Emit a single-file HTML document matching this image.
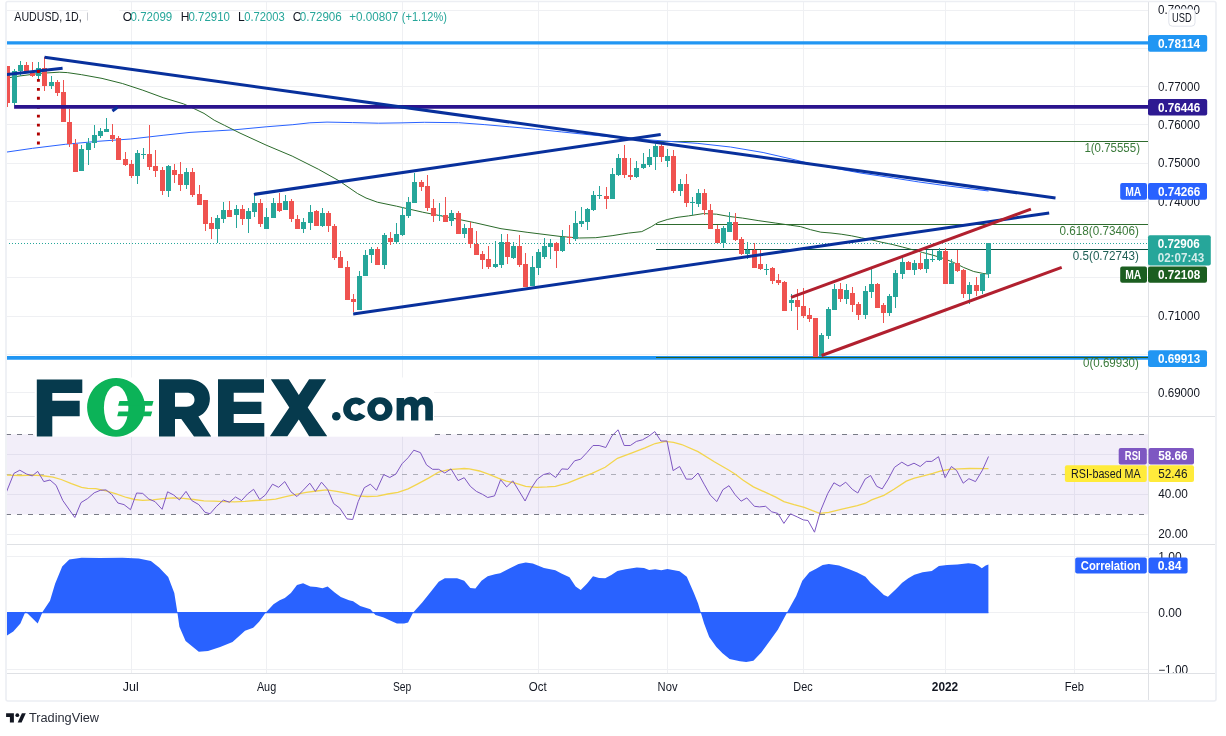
<!DOCTYPE html><html><head><meta charset="utf-8"><style>html,body{margin:0;padding:0;background:#fff;overflow:hidden}svg{will-change:transform}body{width:1226px;height:736px}</style></head><body><svg width="1226" height="736" viewBox="0 0 1226 736" style="display:block;font-family:'Liberation Sans', sans-serif"><defs><clipPath id="cm"><rect x="7" y="2" width="1141" height="414"/></clipPath><clipPath id="cr"><rect x="7" y="417" width="1141" height="127"/></clipPath><clipPath id="cc"><rect x="7" y="545" width="1141" height="128"/></clipPath><clipPath id="pa"><rect x="1149" y="2" width="66" height="414"/></clipPath><clipPath id="pr"><rect x="1149" y="417" width="66" height="127"/></clipPath><clipPath id="pc"><rect x="1149" y="545" width="66" height="128"/></clipPath></defs><rect width="1226" height="736" fill="#fff"/><g stroke="#eff0f3" stroke-width="1" shape-rendering="crispEdges"><line x1="7" x2="1148" y1="10.1" y2="10.1"/><line x1="7" x2="1148" y1="48.3" y2="48.3"/><line x1="7" x2="1148" y1="86.6" y2="86.6"/><line x1="7" x2="1148" y1="124.9" y2="124.9"/><line x1="7" x2="1148" y1="163.1" y2="163.1"/><line x1="7" x2="1148" y1="201.4" y2="201.4"/><line x1="7" x2="1148" y1="239.6" y2="239.6"/><line x1="7" x2="1148" y1="277.9" y2="277.9"/><line x1="7" x2="1148" y1="316.1" y2="316.1"/><line x1="7" x2="1148" y1="354.3" y2="354.3"/><line x1="7" x2="1148" y1="392.6" y2="392.6"/><line x1="7" x2="1148" y1="454.4" y2="454.4"/><line x1="7" x2="1148" y1="494.4" y2="494.4"/><line x1="7" x2="1148" y1="534.4" y2="534.4"/><line x1="7" x2="1148" y1="556.4" y2="556.4"/><line x1="7" x2="1148" y1="612.8" y2="612.8"/><line x1="7" x2="1148" y1="669.5" y2="669.5"/><line x1="131.5" x2="131.5" y1="2" y2="673"/><line x1="266.5" x2="266.5" y1="2" y2="673"/><line x1="402.5" x2="402.5" y1="2" y2="673"/><line x1="538.5" x2="538.5" y1="2" y2="673"/><line x1="667.5" x2="667.5" y1="2" y2="673"/><line x1="803.5" x2="803.5" y1="2" y2="673"/><line x1="945.5" x2="945.5" y1="2" y2="673"/><line x1="1074.5" x2="1074.5" y1="2" y2="673"/></g><rect x="7" y="434.3" width="1141" height="80.1" fill="#7e57c2" fill-opacity="0.1"/><g stroke="#787b86" stroke-width="1" stroke-dasharray="5 6" shape-rendering="crispEdges"><line x1="6" x2="1148" y1="434.5" y2="434.5"/><line x1="6" x2="1148" y1="474.5" y2="474.5" stroke-opacity="0.55"/><line x1="6" x2="1148" y1="514.5" y2="514.5"/></g><g clip-path="url(#cm)"><line x1="7" x2="1148" y1="42.8" y2="42.8" stroke="#2196f3" stroke-width="3.3"/><line x1="7" x2="1148" y1="357.9" y2="357.9" stroke="#2196f3" stroke-width="3.6"/><g stroke-width="1" shape-rendering="crispEdges"><line x1="656" x2="1148" y1="141.5" y2="141.5" stroke="#2e6b2e"/><line x1="656" x2="1148" y1="224.5" y2="224.5" stroke="#2e6b2e"/><line x1="656" x2="1148" y1="249.5" y2="249.5" stroke="#0d4f42"/><line x1="656" x2="1148" y1="357.5" y2="357.5" stroke="#2b5e22"/></g><polyline points="6.5,152.1 32.6,148.3 65.3,144.3 97.9,141.3 130.5,139.0 163.1,135.3 190.0,132.4 234.5,129.8 266.2,126.8 292.8,124.7 309.9,122.8 327.0,122.1 352.7,122.6 378.4,123.2 400.0,122.9 424.3,122.3 458.5,122.7 484.2,124.6 509.9,126.8 535.6,129.2 561.3,131.9 587.0,134.5 610.0,136.8 632.6,138.6 665.3,141.1 697.9,143.4 730.5,147.0 763.1,152.5 795.8,160.0 808.8,163.3 835.0,168.3 861.0,173.1 879.2,175.8 893.6,178.0 918.3,181.9 944.4,185.5 966.0,188.2 988.5,191.0" fill="none" stroke="#2962ff" stroke-width="1"/><polyline points="7.1,78.0 20.4,75.9 40.8,73.3 59.2,72.2 67.3,72.6 81.6,74.7 102.0,78.4 122.4,83.5 142.8,90.2 163.2,97.7 183.6,103.9 193.8,108.5 204.0,113.4 214.2,120.2 224.4,125.3 240.0,133.1 266.1,145.1 292.2,156.1 318.3,169.2 339.2,180.9 357.5,193.5 366.0,198.0 377.4,202.2 396.6,206.2 422.7,212.2 448.8,217.4 474.8,222.7 501.0,228.7 527.1,232.3 560.0,236.4 579.4,238.0 595.8,237.7 612.1,235.7 628.4,233.1 641.8,231.6 651.2,226.8 658.0,222.5 667.3,219.5 677.0,217.4 688.5,215.9 703.3,213.6 716.5,214.2 729.5,216.5 742.6,218.1 758.9,220.7 775.2,223.0 790.2,225.2 800.4,226.6 810.6,229.7 820.8,232.2 831.0,233.0 841.2,234.2 851.4,235.8 861.5,237.9 871.7,239.9 881.9,242.3 892.1,244.4 902.3,247.0 912.5,249.7 922.7,252.5 932.9,255.2 943.1,258.3 953.3,262.3 963.5,267.4 973.7,271.5 983.9,273.6 988.5,274.0" fill="none" stroke="#2b6b2b" stroke-width="1"/><line x1="6" x2="1148" y1="243.5" y2="243.5" stroke="#26a69a" stroke-width="1" stroke-dasharray="1 2" shape-rendering="crispEdges"/><g shape-rendering="crispEdges"><rect x="7" y="66" width="1" height="41" fill="#ef5350"/><rect x="5" y="66" width="5" height="37" fill="#ef5350"/><rect x="14" y="69" width="1" height="36" fill="#26a69a"/><rect x="12" y="71" width="5" height="32" fill="#26a69a"/><rect x="20" y="61" width="1" height="15" fill="#26a69a"/><rect x="18" y="65" width="5" height="6" fill="#26a69a"/><rect x="26" y="62" width="1" height="11" fill="#ef5350"/><rect x="24" y="65" width="5" height="8" fill="#ef5350"/><rect x="32" y="62" width="1" height="15" fill="#ef5350"/><rect x="30" y="73" width="5" height="3" fill="#ef5350"/><rect x="38" y="62" width="1" height="17" fill="#26a69a"/><rect x="36" y="68" width="5" height="8" fill="#26a69a"/><rect x="44" y="57" width="1" height="34" fill="#ef5350"/><rect x="42" y="68" width="5" height="18" fill="#ef5350"/><rect x="51" y="76" width="1" height="13" fill="#26a69a"/><rect x="49" y="82" width="5" height="4" fill="#26a69a"/><rect x="57" y="80" width="1" height="16" fill="#ef5350"/><rect x="55" y="82" width="5" height="11" fill="#ef5350"/><rect x="63" y="80" width="1" height="42" fill="#ef5350"/><rect x="61" y="92" width="5" height="30" fill="#ef5350"/><rect x="69" y="109" width="1" height="38" fill="#ef5350"/><rect x="67" y="122" width="5" height="22" fill="#ef5350"/><rect x="75" y="139" width="1" height="33" fill="#ef5350"/><rect x="73" y="144" width="5" height="28" fill="#ef5350"/><rect x="81" y="145" width="1" height="26" fill="#26a69a"/><rect x="79" y="149" width="5" height="22" fill="#26a69a"/><rect x="88" y="138" width="1" height="27" fill="#26a69a"/><rect x="86" y="143" width="5" height="7" fill="#26a69a"/><rect x="94" y="125" width="1" height="23" fill="#26a69a"/><rect x="92" y="135" width="5" height="8" fill="#26a69a"/><rect x="100" y="128" width="1" height="10" fill="#26a69a"/><rect x="98" y="131" width="5" height="5" fill="#26a69a"/><rect x="106" y="118" width="1" height="14" fill="#26a69a"/><rect x="104" y="129" width="5" height="3" fill="#26a69a"/><rect x="112" y="124" width="1" height="18" fill="#ef5350"/><rect x="110" y="135" width="5" height="4" fill="#ef5350"/><rect x="118" y="136" width="1" height="24" fill="#ef5350"/><rect x="116" y="138" width="5" height="22" fill="#ef5350"/><rect x="125" y="152" width="1" height="14" fill="#ef5350"/><rect x="123" y="159" width="5" height="6" fill="#ef5350"/><rect x="131" y="160" width="1" height="18" fill="#ef5350"/><rect x="129" y="164" width="5" height="12" fill="#ef5350"/><rect x="137" y="150" width="1" height="34" fill="#26a69a"/><rect x="135" y="153" width="5" height="23" fill="#26a69a"/><rect x="143" y="148" width="1" height="11" fill="#26a69a"/><rect x="141" y="154" width="5" height="1" fill="#26a69a"/><rect x="149" y="125" width="1" height="45" fill="#ef5350"/><rect x="147" y="154" width="5" height="13" fill="#ef5350"/><rect x="155" y="150" width="1" height="27" fill="#ef5350"/><rect x="153" y="166" width="5" height="5" fill="#ef5350"/><rect x="162" y="167" width="1" height="28" fill="#ef5350"/><rect x="160" y="170" width="5" height="21" fill="#ef5350"/><rect x="168" y="165" width="1" height="32" fill="#26a69a"/><rect x="166" y="166" width="5" height="25" fill="#26a69a"/><rect x="174" y="164" width="1" height="19" fill="#ef5350"/><rect x="172" y="170" width="5" height="5" fill="#ef5350"/><rect x="180" y="162" width="1" height="29" fill="#ef5350"/><rect x="178" y="174" width="5" height="11" fill="#ef5350"/><rect x="186" y="168" width="1" height="21" fill="#26a69a"/><rect x="184" y="172" width="5" height="13" fill="#26a69a"/><rect x="192" y="168" width="1" height="29" fill="#ef5350"/><rect x="190" y="172" width="5" height="23" fill="#ef5350"/><rect x="199" y="185" width="1" height="20" fill="#ef5350"/><rect x="197" y="194" width="5" height="11" fill="#ef5350"/><rect x="205" y="200" width="1" height="31" fill="#ef5350"/><rect x="203" y="200" width="5" height="24" fill="#ef5350"/><rect x="211" y="217" width="1" height="22" fill="#ef5350"/><rect x="209" y="223" width="5" height="6" fill="#ef5350"/><rect x="217" y="215" width="1" height="28" fill="#26a69a"/><rect x="215" y="218" width="5" height="11" fill="#26a69a"/><rect x="223" y="202" width="1" height="21" fill="#26a69a"/><rect x="221" y="210" width="5" height="9" fill="#26a69a"/><rect x="229" y="201" width="1" height="16" fill="#ef5350"/><rect x="227" y="210" width="5" height="7" fill="#ef5350"/><rect x="236" y="205" width="1" height="23" fill="#26a69a"/><rect x="234" y="209" width="5" height="6" fill="#26a69a"/><rect x="242" y="205" width="1" height="20" fill="#ef5350"/><rect x="240" y="209" width="5" height="10" fill="#ef5350"/><rect x="248" y="208" width="1" height="25" fill="#26a69a"/><rect x="246" y="211" width="5" height="8" fill="#26a69a"/><rect x="254" y="196" width="1" height="21" fill="#26a69a"/><rect x="252" y="203" width="5" height="9" fill="#26a69a"/><rect x="260" y="199" width="1" height="28" fill="#ef5350"/><rect x="258" y="203" width="5" height="21" fill="#ef5350"/><rect x="266" y="208" width="1" height="21" fill="#26a69a"/><rect x="264" y="217" width="5" height="12" fill="#26a69a"/><rect x="273" y="198" width="1" height="20" fill="#26a69a"/><rect x="271" y="203" width="5" height="15" fill="#26a69a"/><rect x="279" y="193" width="1" height="19" fill="#ef5350"/><rect x="277" y="203" width="5" height="8" fill="#ef5350"/><rect x="285" y="195" width="1" height="15" fill="#26a69a"/><rect x="283" y="201" width="5" height="9" fill="#26a69a"/><rect x="291" y="199" width="1" height="23" fill="#ef5350"/><rect x="289" y="201" width="5" height="18" fill="#ef5350"/><rect x="297" y="215" width="1" height="14" fill="#ef5350"/><rect x="295" y="219" width="5" height="10" fill="#ef5350"/><rect x="303" y="218" width="1" height="15" fill="#26a69a"/><rect x="301" y="222" width="5" height="7" fill="#26a69a"/><rect x="310" y="205" width="1" height="25" fill="#26a69a"/><rect x="308" y="212" width="5" height="11" fill="#26a69a"/><rect x="316" y="210" width="1" height="16" fill="#ef5350"/><rect x="314" y="211" width="5" height="15" fill="#ef5350"/><rect x="322" y="208" width="1" height="19" fill="#26a69a"/><rect x="320" y="213" width="5" height="13" fill="#26a69a"/><rect x="328" y="211" width="1" height="21" fill="#ef5350"/><rect x="326" y="213" width="5" height="13" fill="#ef5350"/><rect x="334" y="224" width="1" height="36" fill="#ef5350"/><rect x="332" y="226" width="5" height="32" fill="#ef5350"/><rect x="340" y="251" width="1" height="17" fill="#ef5350"/><rect x="338" y="257" width="5" height="11" fill="#ef5350"/><rect x="347" y="261" width="1" height="39" fill="#ef5350"/><rect x="345" y="267" width="5" height="33" fill="#ef5350"/><rect x="353" y="294" width="1" height="18" fill="#ef5350"/><rect x="351" y="299" width="5" height="3" fill="#ef5350"/><rect x="359" y="271" width="1" height="39" fill="#26a69a"/><rect x="357" y="276" width="5" height="34" fill="#26a69a"/><rect x="365" y="250" width="1" height="26" fill="#26a69a"/><rect x="363" y="255" width="5" height="21" fill="#26a69a"/><rect x="371" y="247" width="1" height="16" fill="#26a69a"/><rect x="369" y="249" width="5" height="6" fill="#26a69a"/><rect x="377" y="247" width="1" height="18" fill="#ef5350"/><rect x="375" y="249" width="5" height="16" fill="#ef5350"/><rect x="384" y="233" width="1" height="36" fill="#26a69a"/><rect x="382" y="235" width="5" height="30" fill="#26a69a"/><rect x="390" y="232" width="1" height="13" fill="#ef5350"/><rect x="388" y="238" width="5" height="4" fill="#ef5350"/><rect x="396" y="223" width="1" height="21" fill="#26a69a"/><rect x="394" y="234" width="5" height="8" fill="#26a69a"/><rect x="402" y="207" width="1" height="29" fill="#26a69a"/><rect x="400" y="215" width="5" height="20" fill="#26a69a"/><rect x="408" y="197" width="1" height="21" fill="#26a69a"/><rect x="406" y="202" width="5" height="14" fill="#26a69a"/><rect x="414" y="173" width="1" height="30" fill="#26a69a"/><rect x="412" y="182" width="5" height="21" fill="#26a69a"/><rect x="421" y="180" width="1" height="11" fill="#ef5350"/><rect x="419" y="182" width="5" height="5" fill="#ef5350"/><rect x="427" y="175" width="1" height="36" fill="#ef5350"/><rect x="425" y="186" width="5" height="22" fill="#ef5350"/><rect x="433" y="199" width="1" height="23" fill="#ef5350"/><rect x="431" y="208" width="5" height="8" fill="#ef5350"/><rect x="439" y="203" width="1" height="18" fill="#26a69a"/><rect x="437" y="215" width="5" height="1" fill="#26a69a"/><rect x="445" y="197" width="1" height="25" fill="#ef5350"/><rect x="443" y="215" width="5" height="7" fill="#ef5350"/><rect x="451" y="210" width="1" height="16" fill="#26a69a"/><rect x="449" y="213" width="5" height="8" fill="#26a69a"/><rect x="458" y="211" width="1" height="23" fill="#ef5350"/><rect x="456" y="213" width="5" height="21" fill="#ef5350"/><rect x="464" y="224" width="1" height="14" fill="#26a69a"/><rect x="462" y="228" width="5" height="6" fill="#26a69a"/><rect x="470" y="222" width="1" height="26" fill="#ef5350"/><rect x="468" y="228" width="5" height="16" fill="#ef5350"/><rect x="476" y="231" width="1" height="24" fill="#ef5350"/><rect x="474" y="244" width="5" height="11" fill="#ef5350"/><rect x="482" y="251" width="1" height="18" fill="#ef5350"/><rect x="480" y="254" width="5" height="6" fill="#ef5350"/><rect x="488" y="246" width="1" height="23" fill="#ef5350"/><rect x="486" y="259" width="5" height="8" fill="#ef5350"/><rect x="495" y="241" width="1" height="27" fill="#26a69a"/><rect x="493" y="264" width="5" height="3" fill="#26a69a"/><rect x="501" y="234" width="1" height="34" fill="#26a69a"/><rect x="499" y="242" width="5" height="23" fill="#26a69a"/><rect x="507" y="234" width="1" height="30" fill="#ef5350"/><rect x="505" y="242" width="5" height="15" fill="#ef5350"/><rect x="513" y="242" width="1" height="17" fill="#26a69a"/><rect x="511" y="246" width="5" height="12" fill="#26a69a"/><rect x="519" y="235" width="1" height="32" fill="#ef5350"/><rect x="517" y="246" width="5" height="19" fill="#ef5350"/><rect x="525" y="253" width="1" height="34" fill="#ef5350"/><rect x="523" y="264" width="5" height="23" fill="#ef5350"/><rect x="532" y="256" width="1" height="30" fill="#26a69a"/><rect x="530" y="267" width="5" height="19" fill="#26a69a"/><rect x="538" y="249" width="1" height="26" fill="#26a69a"/><rect x="536" y="252" width="5" height="16" fill="#26a69a"/><rect x="544" y="238" width="1" height="21" fill="#26a69a"/><rect x="542" y="246" width="5" height="11" fill="#26a69a"/><rect x="550" y="239" width="1" height="20" fill="#26a69a"/><rect x="548" y="243" width="5" height="4" fill="#26a69a"/><rect x="556" y="242" width="1" height="26" fill="#ef5350"/><rect x="554" y="243" width="5" height="8" fill="#ef5350"/><rect x="562" y="230" width="1" height="22" fill="#26a69a"/><rect x="560" y="237" width="5" height="14" fill="#26a69a"/><rect x="569" y="225" width="1" height="19" fill="#ef5350"/><rect x="567" y="237" width="5" height="1" fill="#ef5350"/><rect x="575" y="211" width="1" height="30" fill="#26a69a"/><rect x="573" y="223" width="5" height="16" fill="#26a69a"/><rect x="581" y="207" width="1" height="20" fill="#26a69a"/><rect x="579" y="221" width="5" height="3" fill="#26a69a"/><rect x="587" y="208" width="1" height="22" fill="#26a69a"/><rect x="585" y="209" width="5" height="13" fill="#26a69a"/><rect x="593" y="191" width="1" height="20" fill="#26a69a"/><rect x="591" y="195" width="5" height="15" fill="#26a69a"/><rect x="599" y="186" width="1" height="13" fill="#26a69a"/><rect x="597" y="195" width="5" height="1" fill="#26a69a"/><rect x="606" y="187" width="1" height="22" fill="#ef5350"/><rect x="604" y="196" width="5" height="3" fill="#ef5350"/><rect x="612" y="168" width="1" height="31" fill="#26a69a"/><rect x="610" y="174" width="5" height="25" fill="#26a69a"/><rect x="618" y="154" width="1" height="22" fill="#26a69a"/><rect x="616" y="158" width="5" height="17" fill="#26a69a"/><rect x="624" y="145" width="1" height="33" fill="#ef5350"/><rect x="622" y="158" width="5" height="17" fill="#ef5350"/><rect x="630" y="158" width="1" height="22" fill="#ef5350"/><rect x="628" y="175" width="5" height="2" fill="#ef5350"/><rect x="636" y="161" width="1" height="17" fill="#26a69a"/><rect x="634" y="168" width="5" height="9" fill="#26a69a"/><rect x="643" y="153" width="1" height="16" fill="#26a69a"/><rect x="641" y="164" width="5" height="4" fill="#26a69a"/><rect x="649" y="149" width="1" height="18" fill="#26a69a"/><rect x="647" y="157" width="5" height="8" fill="#26a69a"/><rect x="655" y="144" width="1" height="26" fill="#26a69a"/><rect x="653" y="146" width="5" height="11" fill="#26a69a"/><rect x="661" y="144" width="1" height="18" fill="#ef5350"/><rect x="659" y="146" width="5" height="11" fill="#ef5350"/><rect x="667" y="149" width="1" height="18" fill="#26a69a"/><rect x="665" y="156" width="5" height="5" fill="#26a69a"/><rect x="673" y="150" width="1" height="43" fill="#ef5350"/><rect x="671" y="156" width="5" height="35" fill="#ef5350"/><rect x="680" y="179" width="1" height="17" fill="#26a69a"/><rect x="678" y="184" width="5" height="7" fill="#26a69a"/><rect x="686" y="174" width="1" height="33" fill="#ef5350"/><rect x="684" y="184" width="5" height="19" fill="#ef5350"/><rect x="692" y="197" width="1" height="18" fill="#26a69a"/><rect x="690" y="202" width="5" height="1" fill="#26a69a"/><rect x="698" y="189" width="1" height="18" fill="#26a69a"/><rect x="696" y="193" width="5" height="11" fill="#26a69a"/><rect x="704" y="189" width="1" height="26" fill="#ef5350"/><rect x="702" y="193" width="5" height="17" fill="#ef5350"/><rect x="710" y="204" width="1" height="25" fill="#ef5350"/><rect x="708" y="210" width="5" height="19" fill="#ef5350"/><rect x="717" y="225" width="1" height="18" fill="#ef5350"/><rect x="715" y="229" width="5" height="14" fill="#ef5350"/><rect x="723" y="226" width="1" height="22" fill="#26a69a"/><rect x="721" y="228" width="5" height="15" fill="#26a69a"/><rect x="729" y="212" width="1" height="20" fill="#26a69a"/><rect x="727" y="222" width="5" height="10" fill="#26a69a"/><rect x="735" y="213" width="1" height="28" fill="#ef5350"/><rect x="733" y="222" width="5" height="18" fill="#ef5350"/><rect x="741" y="237" width="1" height="18" fill="#ef5350"/><rect x="739" y="239" width="5" height="15" fill="#ef5350"/><rect x="747" y="242" width="1" height="17" fill="#26a69a"/><rect x="745" y="250" width="5" height="4" fill="#26a69a"/><rect x="754" y="243" width="1" height="25" fill="#ef5350"/><rect x="752" y="250" width="5" height="18" fill="#ef5350"/><rect x="760" y="250" width="1" height="20" fill="#ef5350"/><rect x="758" y="264" width="5" height="5" fill="#ef5350"/><rect x="766" y="264" width="1" height="11" fill="#26a69a"/><rect x="764" y="269" width="5" height="1" fill="#26a69a"/><rect x="772" y="267" width="1" height="17" fill="#ef5350"/><rect x="770" y="268" width="5" height="13" fill="#ef5350"/><rect x="778" y="274" width="1" height="11" fill="#ef5350"/><rect x="776" y="280" width="5" height="3" fill="#ef5350"/><rect x="784" y="281" width="1" height="30" fill="#ef5350"/><rect x="782" y="282" width="5" height="29" fill="#ef5350"/><rect x="791" y="294" width="1" height="17" fill="#26a69a"/><rect x="789" y="300" width="5" height="3" fill="#26a69a"/><rect x="797" y="289" width="1" height="41" fill="#ef5350"/><rect x="795" y="300" width="5" height="7" fill="#ef5350"/><rect x="803" y="288" width="1" height="30" fill="#ef5350"/><rect x="801" y="306" width="5" height="10" fill="#ef5350"/><rect x="809" y="308" width="1" height="14" fill="#ef5350"/><rect x="807" y="315" width="5" height="4" fill="#ef5350"/><rect x="815" y="318" width="1" height="39" fill="#ef5350"/><rect x="813" y="318" width="5" height="39" fill="#ef5350"/><rect x="821" y="333" width="1" height="23" fill="#26a69a"/><rect x="819" y="335" width="5" height="21" fill="#26a69a"/><rect x="828" y="307" width="1" height="32" fill="#26a69a"/><rect x="826" y="309" width="5" height="27" fill="#26a69a"/><rect x="834" y="284" width="1" height="26" fill="#26a69a"/><rect x="832" y="289" width="5" height="21" fill="#26a69a"/><rect x="840" y="283" width="1" height="19" fill="#ef5350"/><rect x="838" y="289" width="5" height="10" fill="#ef5350"/><rect x="846" y="284" width="1" height="20" fill="#26a69a"/><rect x="844" y="290" width="5" height="9" fill="#26a69a"/><rect x="852" y="287" width="1" height="25" fill="#ef5350"/><rect x="850" y="293" width="5" height="12" fill="#ef5350"/><rect x="858" y="302" width="1" height="18" fill="#ef5350"/><rect x="856" y="304" width="5" height="11" fill="#ef5350"/><rect x="865" y="286" width="1" height="33" fill="#26a69a"/><rect x="863" y="291" width="5" height="24" fill="#26a69a"/><rect x="871" y="269" width="1" height="29" fill="#26a69a"/><rect x="869" y="284" width="5" height="8" fill="#26a69a"/><rect x="877" y="283" width="1" height="25" fill="#ef5350"/><rect x="875" y="284" width="5" height="24" fill="#ef5350"/><rect x="883" y="303" width="1" height="20" fill="#ef5350"/><rect x="881" y="305" width="5" height="8" fill="#ef5350"/><rect x="889" y="294" width="1" height="22" fill="#26a69a"/><rect x="887" y="296" width="5" height="17" fill="#26a69a"/><rect x="895" y="270" width="1" height="38" fill="#26a69a"/><rect x="893" y="273" width="5" height="24" fill="#26a69a"/><rect x="902" y="258" width="1" height="21" fill="#26a69a"/><rect x="900" y="262" width="5" height="12" fill="#26a69a"/><rect x="908" y="261" width="1" height="9" fill="#ef5350"/><rect x="906" y="262" width="5" height="8" fill="#ef5350"/><rect x="914" y="260" width="1" height="15" fill="#26a69a"/><rect x="912" y="263" width="5" height="7" fill="#26a69a"/><rect x="920" y="253" width="1" height="17" fill="#ef5350"/><rect x="918" y="263" width="5" height="6" fill="#ef5350"/><rect x="926" y="250" width="1" height="23" fill="#26a69a"/><rect x="924" y="259" width="5" height="10" fill="#26a69a"/><rect x="932" y="250" width="1" height="12" fill="#26a69a"/><rect x="930" y="259" width="5" height="1" fill="#26a69a"/><rect x="939" y="248" width="1" height="13" fill="#26a69a"/><rect x="937" y="251" width="5" height="9" fill="#26a69a"/><rect x="945" y="248" width="1" height="36" fill="#ef5350"/><rect x="943" y="251" width="5" height="33" fill="#ef5350"/><rect x="951" y="259" width="1" height="25" fill="#26a69a"/><rect x="949" y="263" width="5" height="21" fill="#26a69a"/><rect x="957" y="250" width="1" height="22" fill="#ef5350"/><rect x="955" y="263" width="5" height="8" fill="#ef5350"/><rect x="963" y="269" width="1" height="29" fill="#ef5350"/><rect x="961" y="270" width="5" height="24" fill="#ef5350"/><rect x="969" y="282" width="1" height="22" fill="#26a69a"/><rect x="967" y="285" width="5" height="9" fill="#26a69a"/><rect x="976" y="277" width="1" height="19" fill="#ef5350"/><rect x="974" y="285" width="5" height="6" fill="#ef5350"/><rect x="982" y="273" width="1" height="21" fill="#26a69a"/><rect x="980" y="274" width="5" height="17" fill="#26a69a"/><rect x="988" y="243" width="1" height="35" fill="#26a69a"/><rect x="986" y="243" width="5" height="31" fill="#26a69a"/></g><line x1="6.6" y1="74.5" x2="62.6" y2="68.2" stroke="#08309c" stroke-width="3"/><line x1="38.4" x2="38.4" y1="70" y2="146" stroke="#b00000" stroke-width="2.9" stroke-dasharray="2.9 6.04"/><line x1="14.1" x2="1148" y1="106.9" y2="106.9" stroke="#2a148e" stroke-width="3.6"/><g stroke="#08309c" stroke-width="3" stroke-linecap="butt" fill="none"><line x1="44.5" y1="57.3" x2="1055.5" y2="198.1"/><line x1="253.9" y1="194.4" x2="660.7" y2="134.6"/><line x1="353.2" y1="313.9" x2="1049.2" y2="212.9"/><line x1="112.4" y1="111" x2="117.5" y2="107.2"/></g><g stroke="#b1202f" stroke-width="3" fill="none"><line x1="791.1" y1="297.4" x2="1030.9" y2="209.2"/><line x1="821.6" y1="355.5" x2="1061.7" y2="267.3"/></g></g><text x="1084.4" y="152" font-size="12" fill="#3a7a3a" textLength="55.6" lengthAdjust="spacingAndGlyphs" >1(0.75555)</text><text x="1059.6" y="234.6" font-size="12" fill="#3a7a3a" textLength="79.3" lengthAdjust="spacingAndGlyphs" >0.618(0.73406)</text><text x="1072.8" y="259.7" font-size="12" fill="#1d5e54" textLength="66.1" lengthAdjust="spacingAndGlyphs" >0.5(0.72743)</text><text x="1083" y="367.4" font-size="12" fill="#3a7a3a" textLength="55.9" lengthAdjust="spacingAndGlyphs" >0(0.69930)</text><g clip-path="url(#cr)"><polyline points="6.5,475.1 20.4,475.5 32.6,475.1 40.8,475.5 53.0,477.1 61.2,479.5 71.4,483.6 81.6,487.3 87.7,488.3 95.8,488.7 106.0,490.8 116.2,493.8 126.4,497.5 134.6,499.5 142.7,500.3 152.9,499.9 163.1,498.7 173.3,497.9 183.5,498.3 193.7,499.5 203.9,500.8 214.1,501.2 224.3,501.6 234.5,501.8 245.0,501.4 255.2,500.5 265.4,500.1 275.6,499.1 285.8,496.7 296.0,494.4 306.2,492.4 316.4,491.0 326.6,489.9 336.8,491.4 347.0,493.4 357.2,495.9 367.3,496.5 377.5,496.1 387.7,494.0 397.9,492.4 408.1,488.9 418.3,483.6 428.5,478.1 438.7,472.0 448.9,469.6 459.1,468.9 464.2,468.5 469.3,468.9 479.5,471.0 489.7,474.6 498.2,478.1 506.3,481.2 514.5,482.8 525.7,486.3 536.9,487.3 547.1,486.9 555.3,486.3 567.5,483.2 579.7,478.1 592.0,473.4 605.2,467.3 617.4,458.3 632.7,452.6 645.0,447.9 655.2,443.5 665.4,441.4 673.5,442.4 681.7,444.5 698.0,451.6 714.3,461.8 728.6,470.0 735.0,474.0 743.2,480.2 753.4,486.9 765.6,492.4 775.8,497.1 783.9,501.6 794.1,504.6 804.3,507.3 812.5,510.7 819.6,513.4 828.8,512.4 841.0,509.3 857.3,505.6 865.5,503.2 871.6,499.9 883.9,495.4 894.0,489.3 906.3,481.2 914.4,478.1 922.6,476.1 932.8,473.4 941.0,471.0 949.1,469.3 959.3,468.9 969.5,468.5 988.5,468.6" fill="none" stroke="#f3d54e" stroke-width="1.3"/><polyline points="6.5,491.8 13.9,473.4 19.8,470.2 26.5,474.0 32.2,475.9 37.7,471.4 43.8,481.6 50.0,480.0 56.1,485.3 62.8,500.5 74.8,517.5 81.0,502.6 87.7,498.5 94.2,492.8 100.3,490.3 106.0,489.9 111.7,494.4 117.9,503.0 124.0,504.6 130.5,509.7 136.6,493.0 142.7,493.4 148.9,499.1 155.0,501.6 162.1,509.3 167.6,491.8 173.7,495.0 179.4,499.9 186.0,491.4 191.7,500.5 198.8,504.6 204.9,512.2 210.0,513.8 216.2,506.7 223.3,500.1 229.4,502.2 235.5,497.0 241.6,500.5 247.5,494.0 253.6,489.3 259.7,499.5 265.4,495.0 272.5,484.2 278.6,487.3 284.8,481.6 290.9,491.8 297.0,496.5 303.1,490.3 309.8,483.2 315.4,491.4 321.5,482.2 327.6,489.3 333.7,503.6 339.8,508.1 347.0,518.9 352.7,519.5 358.2,501.6 364.3,487.7 370.4,484.2 376.5,490.3 383.7,474.6 389.8,477.5 395.9,474.0 402.0,463.8 408.1,457.7 413.8,450.2 420.4,452.6 426.5,464.9 432.6,469.3 438.7,469.3 444.8,473.0 451.0,468.9 458.1,480.6 464.2,477.7 470.3,486.3 476.4,491.4 482.6,494.4 487.7,497.5 494.5,495.9 500.6,479.7 506.7,486.9 512.8,480.8 519.0,491.0 525.1,501.0 531.2,488.3 537.3,479.1 543.4,474.6 549.5,473.0 555.7,477.5 561.8,468.9 567.9,469.3 574.6,460.8 580.7,459.2 586.9,452.6 593.0,445.5 599.1,445.5 605.8,447.5 611.9,435.9 618.1,429.8 624.2,445.5 630.3,445.5 636.4,441.4 642.5,439.8 648.6,436.3 654.8,431.6 660.9,441.0 667.0,441.0 673.1,470.6 679.6,466.5 686.2,479.1 691.9,479.1 698.0,473.0 704.1,484.2 710.2,495.0 716.8,501.6 722.9,489.7 729.0,485.7 735.1,494.7 741.1,501.2 746.8,497.9 754.4,506.3 759.5,506.9 765.6,506.3 771.7,511.8 777.8,513.4 783.9,523.4 790.5,513.8 797.2,516.9 803.3,519.9 808.0,520.5 814.5,532.2 820.6,510.7 827.8,493.4 833.9,482.8 840.0,486.3 845.7,482.2 852.3,489.3 857.8,493.0 865.1,479.1 870.6,475.5 876.7,486.3 882.2,488.9 888.3,479.1 894.5,467.3 901.8,462.2 907.9,465.9 914.0,463.2 920.2,466.5 926.3,461.4 931.8,461.4 938.5,456.7 945.1,477.7 951.4,466.5 956.7,470.6 963.2,483.2 968.9,478.7 975.5,481.6 982.4,470.2 988.5,456.5" fill="none" stroke="#7e57c2" stroke-width="1" stroke-linejoin="round"/></g><g clip-path="url(#cc)"><polygon points="6.5,612.6 6.5,635.8 13.3,631.4 20.4,623.6 25.5,611.4 37.7,623.6 42.8,611.4 50.0,600.8 55.1,583.8 62.2,566.5 69.3,559.4 81.6,557.7 99.9,557.9 122.3,557.7 138.7,558.4 150.9,561.0 159.1,567.5 168.2,577.1 174.3,593.0 177.4,612.4 179.4,626.7 185.6,640.9 198.8,651.7 208.0,651.1 220.2,647.1 232.5,642.0 240.6,634.8 245.0,630.7 253.2,627.7 259.3,621.6 265.4,613.0 273.5,604.2 279.7,600.2 284.8,598.1 290.9,593.0 297.0,584.9 303.1,583.2 310.3,586.5 316.4,586.9 322.5,588.3 327.6,586.5 334.7,592.6 340.8,597.1 349.0,600.2 353.1,601.2 360.2,605.9 370.4,609.3 375.5,615.0 383.7,617.5 391.8,621.2 396.9,623.6 404.1,623.6 408.1,622.6 413.2,612.4 422.4,602.2 430.6,592.0 438.7,581.8 444.8,578.3 457.1,578.3 464.2,580.8 470.3,587.9 475.4,588.5 481.5,580.8 487.7,576.3 495.0,574.3 500.2,573.2 508.4,569.0 518.5,564.1 525.7,562.4 532.8,563.5 544.0,568.1 555.3,570.2 561.4,573.6 569.5,577.3 575.6,586.5 580.7,590.0 586.9,583.8 593.0,576.3 599.1,578.1 605.2,578.3 611.3,575.1 617.4,571.0 625.6,569.2 636.8,567.5 644.0,567.9 649.1,570.0 655.2,569.2 661.3,570.2 667.4,569.0 679.6,571.2 686.8,576.7 693.9,593.0 698.0,603.2 701.1,613.4 704.1,623.6 709.2,636.9 716.4,647.1 722.5,653.2 729.6,658.9 740.0,661.3 746.2,661.9 753.4,660.7 761.5,652.2 769.7,640.9 777.8,629.7 786.0,614.4 787.0,612.4 796.2,596.1 802.3,580.8 809.4,572.2 816.6,568.5 822.7,564.9 828.8,564.1 839.0,565.5 849.2,569.2 857.3,572.6 865.5,576.7 870.6,582.8 877.7,588.9 883.9,595.1 887.9,596.7 896.1,588.9 902.2,582.8 908.3,578.3 914.4,574.7 922.6,572.2 931.8,571.0 938.9,566.1 947.1,565.1 957.3,564.5 968.3,563.2 974.8,563.9 978.0,565.5 981.8,568.3 985.7,565.5 988.4,564.5 988.4,612.6" fill="#2962ff"/><line x1="6.5" x2="988.4" y1="612.6" y2="612.6" stroke="#2962ff" stroke-width="1.2"/></g><g stroke="#dfe1e5" stroke-width="1" shape-rendering="crispEdges"><line x1="7" x2="1215" y1="416.5" y2="416.5"/><line x1="7" x2="1215" y1="544.5" y2="544.5"/><line x1="7" x2="1215" y1="673.5" y2="673.5"/><line x1="1148.5" x2="1148.5" y1="2" y2="700"/></g><rect x="6" y="1.5" width="1210" height="699.5" rx="2" fill="none" stroke="#eceef3" stroke-width="1.6"/><rect x="34.7" y="377.5" width="399.3" height="59.2" fill="#fff"/><path d="M36.8 379.4 H82.3 V393 H52.3 V400.8 H79.7 V416.2 H52.3 V436.4 H36.8 Z" fill="#063a4d"/><path fill-rule="evenodd" fill="#0cb358" d="M116.05 378 a28.95 29.4 0 1 0 0.01 0 Z M116.15 385.7 a12.25 22.15 0 1 1 -0.01 0 Z"/><path fill="#0cb358" d="M119.4 400.9 H153.5 L152.2 405.8 H118.1 Z M118.5 411.5 H152.2 L150.8 416.2 H117.2 Z"/><path fill-rule="evenodd" fill="#063a4d" d="M159 436.4 V379.3 H187.2 C200.5 379.3 209.9 386.8 209.9 398.4 C209.9 406.8 205.2 413.4 198.4 416.5 L211.2 436.4 H194 L181.3 419 H175 V436.4 Z M175 392.8 H186.5 C191.5 392.8 194.5 395.5 194.5 399.8 C194.5 404 191.5 406.7 186.5 406.7 H175 Z"/><path fill="#063a4d" d="M218 379.3 H264 V392.7 H233.7 V401.8 H261.4 V413.9 H233.7 V422.9 H264.3 V436.4 H218 Z"/><path fill="#063a4d" d="M270.8 379.2 H288.8 L298.8 394.9 L309.1 379.2 H326.2 L307.7 407.6 L327.2 436.2 H309.1 L298.8 419.6 L287.4 436.2 H269.9 L289.3 407.6 Z"/><circle cx="336.3" cy="416.2" r="4.3" fill="#063a4d"/><path fill="#063a4d" d="M365.6 402.3 A12.4 11.8 0 1 0 365.6 416.1 L359.2 412.8 A4.8 5.5 0 1 1 359.2 405.6 Z"/><path fill-rule="evenodd" fill="#063a4d" d="M367.3 409.1 a12.6 11.8 0 1 0 25.2 0 a12.6 11.8 0 1 0 -25.2 0 Z M375 409.3 a5.05 5.55 0 1 0 10.1 0 a5.05 5.55 0 1 0 -10.1 0 Z"/><path fill="#063a4d" d="M396.6 420.5 V398 H404.2 V400 C406 397.8 408.3 396.8 410.8 396.8 C413.8 396.8 416.2 398.2 417.5 400.6 C419.2 398.2 421.7 396.8 424.7 396.8 C429.7 396.8 432.9 400.2 432.9 406 V420.5 H425.3 V408 C425.3 405.6 424.1 404.6 422.1 404.6 C420 404.6 418.4 406 418.4 408.3 V420.5 H411 V408 C411 405.6 409.8 404.6 407.8 404.6 C405.8 404.6 404.2 406 404.2 408.3 V420.5 Z"/><rect x="88" y="3" width="31.4" height="24" fill="#fff"/><text x="14.3" y="20.7" font-size="12" fill="#131722" textLength="67.3" lengthAdjust="spacingAndGlyphs" >AUDUSD, 1D,</text><rect x="87.1" y="12.5" width="0.7" height="8" fill="#b2b5be"/><text x="122.8" y="20.7" font-size="12" fill="#131722" >O</text><text x="130.6" y="20.7" font-size="12" fill="#26a69a" textLength="41.6" lengthAdjust="spacingAndGlyphs" >0.72099</text><text x="180.8" y="20.7" font-size="12" fill="#131722" >H</text><text x="188.5" y="20.7" font-size="12" fill="#26a69a" textLength="41.4" lengthAdjust="spacingAndGlyphs" >0.72910</text><text x="237.9" y="20.7" font-size="12" fill="#131722" >L</text><text x="244.2" y="20.7" font-size="12" fill="#26a69a" textLength="40.5" lengthAdjust="spacingAndGlyphs" >0.72003</text><text x="292.7" y="20.7" font-size="12" fill="#131722" >C</text><text x="299.8" y="20.7" font-size="12" fill="#26a69a" textLength="42.0" lengthAdjust="spacingAndGlyphs" >0.72906</text><text x="349.2" y="20.7" font-size="12" fill="#26a69a" textLength="49.1" lengthAdjust="spacingAndGlyphs" >+0.00807</text><text x="401.8" y="20.7" font-size="12" fill="#26a69a" textLength="45.1" lengthAdjust="spacingAndGlyphs" >(+1.12%)</text><g clip-path="url(#pa)"><text x="1158" y="14.2" font-size="12" fill="#131722" textLength="42" lengthAdjust="spacingAndGlyphs" >0.79000</text><text x="1158" y="90.7" font-size="12" fill="#131722" textLength="42" lengthAdjust="spacingAndGlyphs" >0.77000</text><text x="1158" y="129.0" font-size="12" fill="#131722" textLength="42" lengthAdjust="spacingAndGlyphs" >0.76000</text><text x="1158" y="167.2" font-size="12" fill="#131722" textLength="42" lengthAdjust="spacingAndGlyphs" >0.75000</text><text x="1158" y="205.5" font-size="12" fill="#131722" textLength="42" lengthAdjust="spacingAndGlyphs" >0.74000</text><text x="1158" y="320.2" font-size="12" fill="#131722" textLength="42" lengthAdjust="spacingAndGlyphs" >0.71000</text><text x="1158" y="396.7" font-size="12" fill="#131722" textLength="42" lengthAdjust="spacingAndGlyphs" >0.69000</text></g><g clip-path="url(#pr)"><text x="1158.3" y="497.5" font-size="12" fill="#131722" textLength="29.5" lengthAdjust="spacingAndGlyphs" >40.00</text><text x="1158.3" y="538.3" font-size="12" fill="#131722" textLength="29.5" lengthAdjust="spacingAndGlyphs" >20.00</text></g><g clip-path="url(#pc)"><text x="1158.3" y="560.5" font-size="12" fill="#131722" textLength="23.5" lengthAdjust="spacingAndGlyphs" >1.00</text><text x="1158.3" y="616.7" font-size="12" fill="#131722" textLength="23.5" lengthAdjust="spacingAndGlyphs" >0.00</text><text x="1158.2" y="673.6" font-size="12" fill="#131722" textLength="30" lengthAdjust="spacingAndGlyphs" >−1.00</text></g><rect x="1168.8" y="9" width="26.2" height="17.2" rx="3.5" fill="#fff" stroke="#e0e3eb" stroke-width="1"/><text x="1172" y="22" font-size="12" fill="#131722" textLength="19.7" lengthAdjust="spacingAndGlyphs" >USD</text><rect x="1148" y="35.1" width="59.2" height="16.7" rx="2" fill="#2196f3"/><text x="1157.9" y="47.7" font-size="12" fill="#fff" textLength="42.3" lengthAdjust="spacingAndGlyphs" font-weight="bold" >0.78114</text><rect x="1148" y="99" width="59.2" height="16.6" rx="2" fill="#2e1a92"/><text x="1157.9" y="111.6" font-size="12" fill="#fff" textLength="42.3" lengthAdjust="spacingAndGlyphs" font-weight="bold" >0.76446</text><rect x="1120.2" y="183.1" width="26.8" height="16.6" rx="2" fill="#2962ff"/><text x="1125.2" y="195.6" font-size="12" fill="#fff" textLength="16.1" lengthAdjust="spacingAndGlyphs" font-weight="bold" >MA</text><rect x="1148" y="183.1" width="59.0" height="16.6" rx="2" fill="#2962ff"/><text x="1157.9" y="195.6" font-size="12" fill="#fff" textLength="42.3" lengthAdjust="spacingAndGlyphs" font-weight="bold" >0.74266</text><rect x="1148" y="235.2" width="62.8" height="30.4" rx="2" fill="#26a69a"/><text x="1157.7" y="247.9" font-size="12" fill="#fff" textLength="42.1" lengthAdjust="spacingAndGlyphs" font-weight="bold" >0.72906</text><text x="1157.7" y="261.6" font-size="12" fill="#fff" textLength="46.5" lengthAdjust="spacingAndGlyphs" font-weight="bold" fill-opacity="0.8">02:07:43</text><rect x="1120.2" y="266.4" width="26.8" height="16.4" rx="2" fill="#1b5e20"/><text x="1125.2" y="278.8" font-size="12" fill="#fff" textLength="16.1" lengthAdjust="spacingAndGlyphs" font-weight="bold" >MA</text><rect x="1148" y="266.4" width="59.0" height="16.4" rx="2" fill="#1b5e20"/><text x="1157.9" y="278.8" font-size="12" fill="#fff" textLength="42.3" lengthAdjust="spacingAndGlyphs" font-weight="bold" >0.72108</text><rect x="1148" y="350.2" width="59.0" height="16.7" rx="2" fill="#2196f3"/><text x="1157.9" y="362.8" font-size="12" fill="#fff" textLength="42.3" lengthAdjust="spacingAndGlyphs" font-weight="bold" >0.69913</text><rect x="1118.7" y="448" width="28.1" height="16.4" rx="2" fill="#7e57c2"/><text x="1124.8" y="460.4" font-size="12" fill="#fff" textLength="15.9" lengthAdjust="spacingAndGlyphs" font-weight="bold" >RSI</text><rect x="1148.5" y="448" width="45.5" height="16.4" rx="2" fill="#7e57c2"/><text x="1158.3" y="460.4" font-size="12" fill="#fff" textLength="29.3" lengthAdjust="spacingAndGlyphs" font-weight="bold" >58.66</text><rect x="1064.9" y="465.2" width="81.9" height="16.8" rx="2" fill="#ffeb3b"/><text x="1071" y="477.8" font-size="12" fill="#131722" textLength="69.7" lengthAdjust="spacingAndGlyphs" >RSI-based MA</text><rect x="1148.5" y="465.2" width="45.5" height="16.8" rx="2" fill="#ffeb3b"/><text x="1158.3" y="477.8" font-size="12" fill="#131722" textLength="29.3" lengthAdjust="spacingAndGlyphs" >52.46</text><rect x="1075.2" y="557.4" width="71.6" height="16.1" rx="2" fill="#2962ff"/><text x="1080.8" y="569.7" font-size="12" fill="#fff" textLength="59.9" lengthAdjust="spacingAndGlyphs" font-weight="bold" >Correlation</text><rect x="1148.5" y="557.4" width="39.1" height="16.1" rx="2" fill="#2962ff"/><text x="1157.8" y="569.7" font-size="12" fill="#fff" textLength="23.7" lengthAdjust="spacingAndGlyphs" font-weight="bold" >0.84</text><text x="122.8" y="691" font-size="12" fill="#131722" textLength="15.9" lengthAdjust="spacingAndGlyphs" >Jul</text><text x="256.9" y="691" font-size="12" fill="#131722" textLength="19.3" lengthAdjust="spacingAndGlyphs" >Aug</text><text x="393" y="691" font-size="12" fill="#131722" textLength="18.3" lengthAdjust="spacingAndGlyphs" >Sep</text><text x="528.8" y="691" font-size="12" fill="#131722" textLength="17.9" lengthAdjust="spacingAndGlyphs" >Oct</text><text x="657.6" y="691" font-size="12" fill="#131722" textLength="19.9" lengthAdjust="spacingAndGlyphs" >Nov</text><text x="793.3" y="691" font-size="12" fill="#131722" textLength="19.3" lengthAdjust="spacingAndGlyphs" >Dec</text><text x="931.8" y="691" font-size="12" fill="#131722" textLength="26.4" lengthAdjust="spacingAndGlyphs" font-weight="bold" >2022</text><text x="1064.8" y="691" font-size="12" fill="#131722" textLength="19.2" lengthAdjust="spacingAndGlyphs" >Feb</text><g fill="#131722"><path d="M6.1 713.3 H13.9 V722.6 H9.9 V716.9 H6.1 Z"/><circle cx="17.3" cy="715.2" r="1.9"/><path d="M21.9 713.3 H25.8 L21.6 722.6 H17.7 Z"/></g><text x="28.9" y="722.4" font-size="12.5" fill="#2a2e39" textLength="70.2" lengthAdjust="spacingAndGlyphs" >TradingView</text></svg></body></html>
